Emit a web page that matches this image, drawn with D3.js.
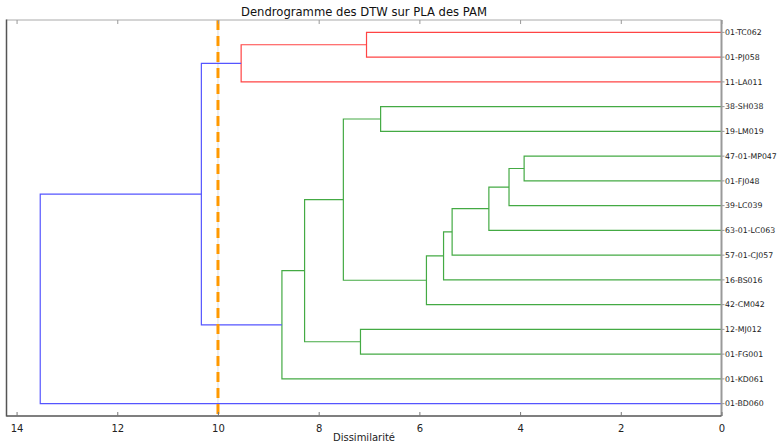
<!DOCTYPE html>
<html>
<head>
<meta charset="utf-8">
<script src="https://cdn.jsdelivr.net/npm/d3@7"></script>
<style>
  body { margin: 0; background: #fff; }
  text { font-family: "DejaVu Sans", sans-serif; }
</style>
</head>
<body>
<script>
// leaves, top to bottom as displayed
var leafLabels = ["01-TC062", "01-PJ058", "11-LA011", "38-SH038", "19-LM019", "47-01-MP047",
                  "01-FJ048", "39-LC039", "63-01-LC063", "57-01-CJ057", "16-BS016", "42-CM042",
                  "12-MJ012", "01-FG001", "01-KD061", "01-BD060"];
// merges like a scipy linkage: ids >= 16 are earlier merges (16 + row)
var mergeA = [0, 16, 3, 5, 19, 20, 21, 22, 23, 18, 12, 25, 27, 17, 29];
var mergeB = [1, 2, 4, 6, 7, 8, 9, 10, 11, 24, 13, 26, 14, 28, 15];
var mergeHeight = [7.05, 9.54, 6.77, 3.92, 4.22, 4.62, 5.35, 5.52, 5.86, 7.51, 7.17, 8.28, 8.73, 10.33, 13.53];
var threshold = 10;
var clusterColors = ["#ff4444", "#44aa44"];
var aboveColor = "#5555ff";
var xTicks = [14, 12, 10, 8, 6, 4, 2, 0];

var width = 780, height = 443;
// "top" is taken by window.top, so margins get their own names
var plotLeft = 6.5, plotRight = 721.5, plotTop = 20, plotBottom = 416;

var svg = d3.select("body").append("svg")
            .attr("width", width)
            .attr("height", height);

var x = d3.scaleLinear().domain([14.2, 0]).range([plotLeft, plotRight]);
var y = d3.scaleLinear().domain([0, 160]).range([plotBottom, plotTop]);

var n = leafLabels.length;
// node positions: leaves at 5, 15, ... counted from the bottom
var nodeY = [], nodeX = [];
for (var i = 0; i < n; i++) {
  nodeY.push(155 - 10 * i);
  nodeX.push(0);
}
for (var k = 0; k < mergeA.length; k++) {
  nodeY.push((nodeY[mergeA[k]] + nodeY[mergeB[k]]) / 2);
  nodeX.push(mergeHeight[k]);
}

function leavesOf(id) {
  if (id < n) return [id];
  return leavesOf(mergeA[id - n]).concat(leavesOf(mergeB[id - n]));
}

// a node under the threshold whose parent is above it starts a cluster
var parent = {};
mergeA.forEach(function(a, k) { parent[a] = n + k; parent[mergeB[k]] = n + k; });
var colorIdx = {}, nextCluster = 0;
var order = [];
for (var id = n; id < n + mergeA.length; id++) order.push(id);
order.sort(function(a, b) { return d3.min(leavesOf(a)) - d3.min(leavesOf(b)); });
order.forEach(function(id) {
  if (nodeX[id] < threshold && (parent[id] === undefined || nodeX[parent[id]] >= threshold)) {
    colorIdx[id] = nextCluster++;
  }
});
function linkColor(id) {
  if (nodeX[id] >= threshold) return aboveColor;
  var p = id;
  while (colorIdx[p] === undefined) p = parent[p];
  return clusterColors[colorIdx[p] % clusterColors.length];
}

// faint gray line under the cut
svg.append("line")
   .attr("x1", x(threshold)).attr("x2", x(threshold))
   .attr("y1", plotTop).attr("y2", plotBottom)
   .attr("stroke", "#dddddd").attr("stroke-width", 1);

// links
var g = svg.append("g").attr("fill", "none").attr("stroke-width", 1.2);
for (var k = 0; k < mergeA.length; k++) {
  var id = n + k, a = mergeA[k], b = mergeB[k];
  var path = "M" + x(nodeX[a]) + "," + y(nodeY[a]) +
             "H" + x(nodeX[id]) +
             "V" + y(nodeY[b]) +
             "H" + x(nodeX[b]);
  g.append("path").attr("d", path).attr("stroke", linkColor(id));
}

// cut line
svg.append("line")
   .attr("x1", x(threshold)).attr("x2", x(threshold))
   .attr("y1", plotTop).attr("y2", plotBottom)
   .attr("stroke", "#ff9900").attr("stroke-width", 3)
   .attr("stroke-dasharray", "10,6");

// spines
svg.append("line").attr("x1", plotLeft).attr("x2", plotRight).attr("y1", plotTop).attr("y2", plotTop)
   .attr("stroke", "#aaaaaa").attr("stroke-width", 1);
svg.append("line").attr("x1", plotRight).attr("x2", plotRight).attr("y1", plotTop).attr("y2", plotBottom)
   .attr("stroke", "#999999").attr("stroke-width", 2);
svg.append("line").attr("x1", plotLeft).attr("x2", plotLeft).attr("y1", plotTop - 0.5).attr("y2", plotBottom + 0.5)
   .attr("stroke", "#555555").attr("stroke-width", 1.5);
svg.append("line").attr("x1", plotLeft).attr("x2", plotRight).attr("y1", plotBottom).attr("y2", plotBottom)
   .attr("stroke", "#555555").attr("stroke-width", 1.5);

// bottom axis, ticks inward
var xAxis = d3.axisBottom(x).tickValues(xTicks).tickSizeInner(-4).tickSizeOuter(0).tickPadding(9)
              .tickFormat(d3.format("d"));
var ax = svg.append("g").attr("transform", "translate(0," + plotBottom + ")").call(xAxis);
ax.select(".domain").remove();
ax.selectAll("line").attr("stroke", "#777");
ax.selectAll("text").attr("font-size", 10).attr("font-family", "DejaVu Sans, sans-serif").attr("fill", "#222");

var topAxis = d3.axisTop(x).tickValues(xTicks).tickSizeInner(-4).tickSizeOuter(0).tickFormat("");
var tx = svg.append("g").attr("transform", "translate(0," + plotTop + ")").call(topAxis);
tx.select(".domain").remove();
tx.selectAll("line").attr("stroke", "#999");

// leaf labels on the right
var lab = svg.append("g");
leafLabels.forEach(function(name, i) {
  lab.append("line").attr("x1", plotRight).attr("x2", plotRight + 3)
     .attr("y1", y(nodeY[i])).attr("y2", y(nodeY[i]))
     .attr("stroke", "#999");
  lab.append("text").attr("x", plotRight + 3.5).attr("y", y(nodeY[i]))
     .attr("dy", "0.35em").attr("font-size", 7.8).attr("fill", "#222")
     .text(name);
});

// title and x label
svg.append("text").attr("x", (plotLeft + plotRight) / 2).attr("y", 16)
   .attr("text-anchor", "middle").attr("font-size", 11.6).attr("fill", "#111")
   .text("Dendrogramme des DTW sur PLA des PAM");
svg.append("text").attr("x", (plotLeft + plotRight) / 2).attr("y", 441)
   .attr("text-anchor", "middle").attr("font-size", 10).attr("fill", "#222")
   .text("Dissimilarité");
</script>
</body>
</html>
